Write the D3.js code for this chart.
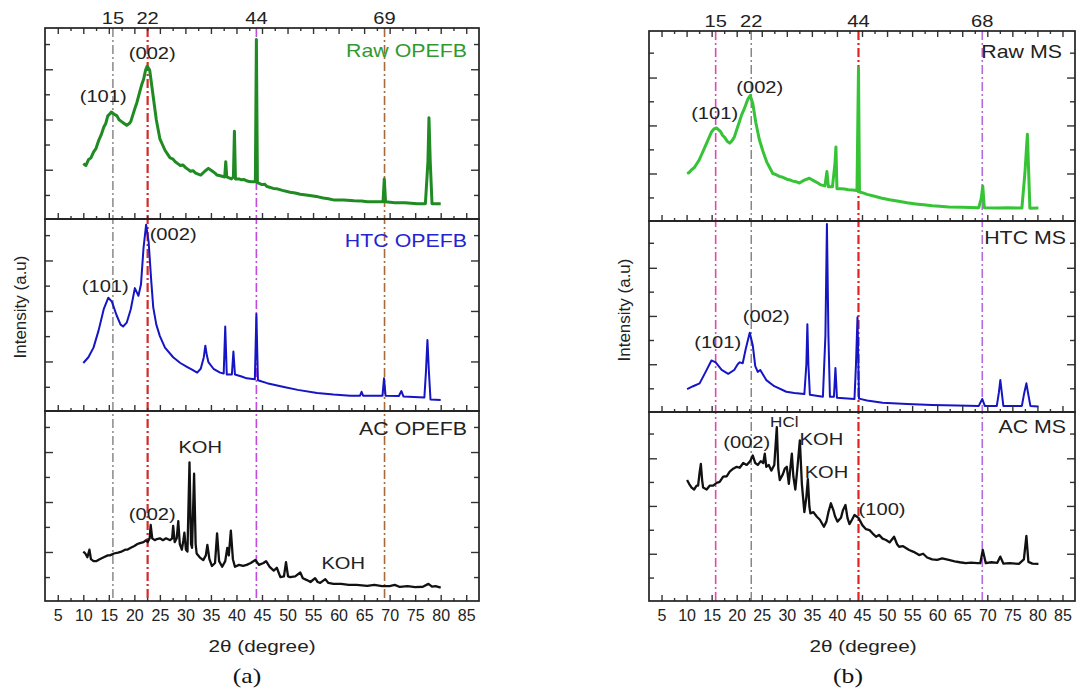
<!DOCTYPE html>
<html>
<head>
<meta charset="utf-8">
<script src="https://cdn.jsdelivr.net/npm/d3@7"></script>
<style>
  body { margin: 0; background: #fff; }
  svg { display: block; font-family: "Liberation Sans", Arial, sans-serif; }
</style>
</head>
<body>
<svg id="chart" width="1076" height="691"></svg>
<script>
/* DATA: [2theta, relative intensity %] */
const rawOpefb = [[10,29],[10.5,28],[11,31],[11.5,32],[12,35],[12.5,37],[13,41],[13.5,44],[14,48],[14.4,50],[14.8,54],[15.2,55],[15.5,56],[16,55],[16.6,54],[17,52],[17.5,51],[18,50],[18.5,49],[19,50],[19.3,51],[20,57],[20.5,61],[21,66],[21.4,70],[21.8,73],[22.2,78],[22.5,80],[23,78],[23.6,66],[24.3,52],[25,42],[25.5,39],[26,36],[26.5,34],[27,32],[27.5,31.5],[28,30],[28.5,29],[29,28],[29.5,28.3],[30,27],[30.5,26],[31,25],[31.5,25.3],[32,24],[32.5,23.5],[33,23],[33.8,25],[34.5,26.5],[35.3,25],[35.8,24],[36.2,23],[37,22.5],[37.7,22],[37.9,30],[38.1,22],[39,21],[39.4,22],[39.6,46],[39.8,21],[40.5,21],[41,20.5],[41.5,20.7],[42,20],[42.5,19.6],[43,19.5],[43.7,19.5],[43.9,94],[44.1,19],[45,18],[45.5,18.2],[46,17],[47.2,16],[48,15.8],[49,15],[50.5,14],[51.5,13.6],[52.5,13],[54,12.4],[55,12],[56,11.6],[57,11],[58,10.6],[59,10],[61,10],[63,9.5],[64.5,9.4],[65.6,9],[67,9],[68.7,9],[68.95,21],[69.2,9],[71,8.5],[73,8.5],[75.4,8],[77,8],[77.5,30],[77.7,53],[77.95,30],[78.3,8],[80,8]];
const htcOpefb = [[10,25],[11,28],[12,33],[13,42],[14,53],[14.9,59],[15.6,57],[16.5,50],[17.3,45],[17.8,44],[18.5,46],[19.3,53],[20.1,64],[20.8,60],[21.3,66],[21.8,85],[22.3,97],[22.8,88],[23.3,68],[23.7,54],[24.3,45],[25,39],[26,33],[27.6,28],[29,25],[30.3,23],[31.3,21.5],[32.3,20],[33,22],[33.6,28],[33.9,34],[34.2,29],[34.5,25.5],[35.5,22],[36.8,20],[37.5,19.5],[37.8,44],[38.1,19],[39.1,19],[39.4,31],[39.7,19],[41,18],[42,17],[43.6,16.5],[43.9,50.5],[44.2,16],[46,14.5],[49.3,12.5],[52,11],[55.8,9.4],[59,8.6],[62.3,8],[64.2,8],[64.5,10],[64.8,8],[68.6,8],[68.9,17],[69.2,8],[71.8,7.8],[72.3,10.4],[72.7,7.6],[76.8,7],[77.1,20],[77.4,37],[77.7,20],[78,6],[80,5.7]];
const acOpefb = [[10,26],[10.4,25],[10.8,23],[11.2,27],[11.5,22],[12,21],[12.6,21],[13.2,22],[14,23],[14.8,24],[15.2,24],[16,25],[16.8,25.5],[17.5,26],[18.2,27],[18.6,27],[19.3,28],[20,29],[20.6,30],[21.1,30.5],[21.8,31],[22.3,32],[22.6,31],[23,33],[23.2,40],[23.5,33],[24,32],[24.4,32.6],[25,33],[25.6,32],[26.2,33],[27,32],[27.4,33],[27.6,39.5],[27.9,31],[28.3,33],[28.6,42],[28.9,30],[29.3,27],[29.6,32],[29.8,36],[30.1,27],[30.4,26],[30.8,73],[31.1,30],[31.3,28],[31.7,67],[32,30],[32.2,25],[32.8,23],[33.5,21.5],[34,24],[34.3,29.5],[34.7,22],[35.2,18.4],[35.8,20],[36.2,35.6],[36.6,21],[37.2,18],[37.8,21],[38.2,28],[38.5,24],[38.9,37],[39.3,22],[39.7,18],[40.5,19],[41.3,18.5],[42,19],[42.8,20],[43.7,21.6],[44.4,19],[45.3,20],[45.8,21],[46.5,18],[47.3,16],[47.9,17.5],[48.6,12.6],[49.3,13],[49.7,20.5],[50.1,13],[50.5,12.6],[51.5,13],[52.5,15],[53,12],[53.8,11],[54.5,10],[55.4,12],[55.9,10],[56.4,9.5],[57.4,11.5],[58,9.5],[59,9],[60.5,9],[62,8.5],[63.5,8.5],[65.6,8],[67,8.5],[68.5,7.8],[70,7.8],[71,8.5],[72,7.4],[73.5,7.8],[75,7.3],[76.5,7.5],[77.6,9],[78.3,7.6],[79,7.8],[80,7]];

const rawMs = [[10.1,25],[10.5,25.5],[11,27],[11.5,28],[12,30],[12.5,32],[13,35],[13.5,38],[14,41],[14.5,44],[15,47],[15.5,48.5],[15.96,49],[16.4,48],[16.8,47],[17.2,45],[17.6,44],[18.1,42],[18.6,41],[19,42],[19.5,44],[20,48],[20.5,52],[21,56],[21.5,59],[22.2,64],[22.7,66],[23.2,62],[23.8,52],[24.5,43],[25.2,37],[25.6,34],[26,31],[26.6,28],[27.2,25],[27.8,24.5],[28.5,23.5],[29.2,23],[30,22],[30.6,21.6],[31.2,21],[31.8,20.7],[32.5,20],[33.5,21.5],[34.5,22.5],[35.5,21],[36.2,20],[36.8,19],[37.6,18.5],[38,26],[38.3,18],[39.1,18],[39.6,30],[39.8,39],[40,17],[40.8,17],[41.5,16.8],[42.3,16.5],[43.1,16.3],[44,16],[44.3,80.5],[44.5,15.3],[45.2,14.8],[46,14],[47.5,13],[49,12],[50.5,11.2],[52,10.5],[54,9.6],[55.7,9],[57.3,8.5],[59,8],[60.5,7.7],[62.3,7.4],[65,7.2],[68.3,7],[68.8,12],[69.1,18.4],[69.4,7],[72,6.9],[74,7],[76.9,6.8],[77.5,25],[78,45.7],[78.5,6.7],[80.2,6.8]];
const htcMs = [[10.1,12],[11.3,13.5],[12.6,15],[13.8,21],[14.96,27],[15.8,26],[17,22],[18.3,20],[19.5,22],[20.2,25],[20.6,26],[21.2,25.5],[21.8,33],[22.6,41.5],[23.2,35],[23.7,24],[24.2,21],[24.7,22],[25.9,16.7],[27.5,13.5],[29.9,10.6],[31.5,10],[33.5,9.4],[33.9,25],[34.1,46],[34.3,25],[34.6,9],[37.2,8],[37.7,40],[38,98.4],[38.3,40],[38.6,8],[39.4,8],[39.7,23],[40,7.5],[43.5,6.8],[43.8,25],[44.1,49.6],[44.4,7],[46,6],[49.1,4.9],[54,4.2],[59,3.7],[64,3.4],[68.3,3.2],[69,6.8],[69.5,3.2],[71.9,3.2],[72.3,10],[72.6,16.7],[72.9,10],[73.2,3.2],[76.9,3.2],[77.3,9],[77.8,15],[78.2,9],[78.6,3.2],[80.2,2.9]];
const acMs = [[10.1,64],[10.5,62],[11,60],[11.5,59],[12,61],[12.3,61],[12.6,68],[12.85,72.5],[13.1,64],[13.3,60],[14,59],[14.6,61],[15.3,61],[16,62.5],[16.6,63],[17.3,65.8],[18,66],[18.6,68.5],[19.3,70],[20,71],[20.6,70.5],[21.3,73],[22,72],[22.7,74],[23.2,77],[23.7,73],[24.2,72],[24.8,74],[25.3,73],[25.6,78],[25.9,71],[26.4,72],[26.9,69],[27.5,72],[28,92],[28.3,70],[28.6,64],[29.2,67],[29.6,70],[30,71],[30.4,62],[30.7,70],[31,78],[31.3,66],[31.7,59],[32.1,70],[32.6,85],[33,62],[33.5,47],[33.9,55],[34.2,64.5],[34.5,50],[34.7,46.4],[35.3,47],[36,44.6],[36.6,43],[37.4,39.3],[37.9,42],[38.3,47],[38.8,51.7],[39.3,48],[39.6,45],[40.1,42],[40.8,44],[41.2,48],[41.7,50.8],[42.1,44],[42.5,40.7],[43,43],[43.5,45.5],[44.3,44],[45.1,40],[45.8,38],[46.5,37.5],[47.1,35.8],[47.8,34],[48.4,35],[49.1,33],[49.8,32.3],[50.5,31],[51.4,34],[52,30],[52.4,28.7],[53.2,29],[54.4,27],[55.3,26],[56.4,24.3],[57.2,25],[58,23],[59,22],[60,21.8],[61,22.5],[62.3,21.7],[63.5,21],[64.5,20.5],[65.7,20],[66.8,20.3],[68,20],[68.6,20],[69.1,27],[69.7,20],[70.8,20.5],[72,20.2],[72.6,23.5],[73.2,19.8],[74.5,20],[76.3,19.6],[77.3,22],[77.8,34.4],[78.2,20.7],[79,19.8],[80.2,19.6]];

/* reference lines and tick labels */
const refA = [15.8, 22.6, 43.9, 69.0];
const refALabels = ["15", "22", "44", "69"];
const refB = [15.8, 22.9, 44.3, 69.0];
const refBLabels = ["15", "22", "44", "68"];
const xTickLabels = [5,10,15,20,25,30,35,40,45,50,55,60,65,70,75,80,85];
const xMinorTicks = [7.5,12.5,17.5,22.5,27.5,32.5,37.5,42.5,47.5,52.5,57.5,62.5,67.5,72.5,77.5,82.5];
const yMajorA = [25.8, 52.1, 78.4], yMinorA = [12.6, 39, 65.3, 91.6];
const yMajorB = [25, 50.3, 75.5], yMinorB = [12.4, 37.7, 63, 88.6];

/* annotations: [text, 2theta, intensity] */
const notesRawOpefb = [["(101)", 13.9, 61], ["(002)", 23.5, 84]];
const notesHtcOpefb = [["(101)", 14.3, 62], ["(002)", 27.6, 89]];
const notesAcOpefb = [["(002)", 23.5, 42.6], ["KOH", 32.9, 78], ["KOH", 60.9, 17]];
const notesRawMs = [["(101)", 15.6, 53.7], ["(002)", 24.6, 67.4]];
const notesHtcMs = [["(101)", 16.2, 33.5], ["(002)", 25.9, 47]];
const notesAcMs = [["(002)", 22, 81], ["HCl", 29.5, 92], ["KOH", 36.9, 82.5], ["KOH", 37.9, 65], ["(100)", 49, 45.5]];

/* LAYOUT */
const svg = d3.select("#chart");
const SX = 1.22; // source figure is stretched sideways

const figA = {
  left: 45, right: 479, labelY: 24, caption: "(a)", captionX: 247, titleX: 262, yTitleX: 26, yTitleY: 307,
  refs: refA, refLabels: refALabels,
  refColors: ["#808080", "#d42a2a", "#c24ae0", "#a86a3c"], refWidths: [1.4, 2.2, 1.6, 1.6],
  yMajor: yMajorA, yMinor: yMinorA,
  panels: [
    { data: rawOpefb, top: 28, bottom: 219, color: "#1f8b22", width: 3, name: "Raw OPEFB", nameColor: "#2f9a30", nameX: 467, nameDy: 29, notes: notesRawOpefb },
    { data: htcOpefb, top: 219, bottom: 411, color: "#1515c4", width: 2, name: "HTC OPEFB", nameColor: "#2424d2", nameX: 467, nameDy: 28, notes: notesHtcOpefb },
    { data: acOpefb, top: 411, bottom: 601, color: "#111", width: 2.3, name: "AC OPEFB", nameColor: "#222", nameX: 467, nameDy: 24, notes: notesAcOpefb }
  ]
};
const figB = {
  left: 649, right: 1075, labelY: 27, caption: "(b)", captionX: 848, titleX: 863, yTitleX: 630, yTitleY: 310,
  refs: refB, refLabels: refBLabels,
  refColors: ["#de48b2", "#808080", "#e02222", "#b46ae0"], refWidths: [1.6, 1.4, 2.2, 1.6],
  yMajor: yMajorB, yMinor: yMinorB,
  panels: [
    { data: rawMs, top: 31, bottom: 221, color: "#36c436", width: 3, name: "Raw MS", nameColor: "#222", nameX: 1062, nameDy: 27, notes: notesRawMs },
    { data: htcMs, top: 221, bottom: 412, color: "#1515c4", width: 2, name: "HTC MS", nameColor: "#222", nameX: 1066, nameDy: 23, notes: notesHtcMs },
    { data: acMs, top: 412, bottom: 601, color: "#111", width: 2.3, name: "AC MS", nameColor: "#222", nameX: 1066, nameDy: 21, notes: notesAcMs }
  ]
};

function label(parent, str, px, py, size, color, anchor, sx) {
  return parent.append("text")
    .attr("transform", `translate(${px},${py}) scale(${sx},1)`)
    .attr("text-anchor", anchor)
    .attr("font-size", size)
    .attr("fill", color)
    .text(str);
}

function styleTicks(g) {
  g.select(".domain").remove();
  g.selectAll(".tick line").attr("stroke", "#333").attr("stroke-width", 1.4);
}

function drawFigure(fig) {
  const g = svg.append("g");
  const x = d3.scaleLinear().domain([2.5, 87.5]).range([fig.left, fig.right]);
  const top = fig.panels[0].top, bottom = fig.panels[2].bottom;

  // dash-dot guide lines
  fig.refs.forEach((v, i) => {
    g.append("line")
      .attr("x1", x(v)).attr("x2", x(v))
      .attr("y1", top).attr("y2", bottom)
      .attr("stroke", fig.refColors[i])
      .attr("stroke-width", fig.refWidths[i])
      .attr("stroke-dasharray", "9,3,2,3");
    label(g, fig.refLabels[i], x(v), fig.labelY, 16.5, "#222", "middle", SX);
  });

  fig.panels.forEach((p, pi) => {
    const y = d3.scaleLinear().domain([0, 100]).range([p.bottom, p.top]);
    const line = d3.line().x(d => x(d[0])).y(d => y(d[1]));

    g.append("path")
      .datum(p.data)
      .attr("d", line)
      .attr("fill", "none")
      .attr("stroke", p.color)
      .attr("stroke-width", p.width)
      .attr("stroke-linejoin", "round");

    // bottom ticks (inward)
    const last = pi === fig.panels.length - 1;
    const bMaj = g.append("g").attr("transform", `translate(0,${p.bottom})`)
      .call(d3.axisBottom(x).tickValues(xTickLabels).tickSize(-6).tickSizeOuter(0)
        .tickPadding(9).tickFormat(last ? d3.format("d") : ""));
    styleTicks(bMaj);
    bMaj.selectAll("text").attr("font-size", 16).attr("fill", "#222").attr("font-family", "Liberation Sans, Arial, sans-serif");
    const bMin = g.append("g").attr("transform", `translate(0,${p.bottom})`)
      .call(d3.axisBottom(x).tickValues(xMinorTicks).tickSize(-3).tickSizeOuter(0).tickFormat(""));
    styleTicks(bMin);

    if (pi === 0) {
      const tMaj = g.append("g").attr("transform", `translate(0,${p.top})`)
        .call(d3.axisTop(x).tickValues(xTickLabels).tickSize(-6).tickSizeOuter(0).tickFormat(""));
      styleTicks(tMaj);
      const tMin = g.append("g").attr("transform", `translate(0,${p.top})`)
        .call(d3.axisTop(x).tickValues(xMinorTicks).tickSize(-3).tickSizeOuter(0).tickFormat(""));
      styleTicks(tMin);
    }

    // left and right ticks (inward)
    [[d3.axisLeft, fig.left], [d3.axisRight, fig.right]].forEach(([ax, pos]) => {
      const a = g.append("g").attr("transform", `translate(${pos},0)`)
        .call(ax(y).tickValues(fig.yMajor).tickSize(-8).tickSizeOuter(0).tickFormat(""));
      styleTicks(a);
      const b = g.append("g").attr("transform", `translate(${pos},0)`)
        .call(ax(y).tickValues(fig.yMinor).tickSize(-5).tickSizeOuter(0).tickFormat(""));
      styleTicks(b);
    });

    // frame
    g.append("rect")
      .attr("x", fig.left).attr("y", p.top)
      .attr("width", fig.right - fig.left).attr("height", p.bottom - p.top)
      .attr("fill", "none").attr("stroke", "#222").attr("stroke-width", 1.7);

    label(g, p.name, p.nameX, p.top + p.nameDy, 17.5, p.nameColor, "end", SX);

    p.notes.forEach(n => {
      label(g, n[0], x(n[1]), y(n[2]), n[0] === "HCl" ? 14 : 16.5, "#222", "middle", SX);
    });
  });

  label(g, "2θ (degree)", fig.titleX, 652, 17, "#222", "middle", SX);
  label(g, fig.caption, fig.captionX, 683, 21, "#111", "middle", SX).attr("font-family", "Liberation Serif, serif");

  g.append("text")
    .attr("transform", `translate(${fig.yTitleX},${fig.yTitleY}) rotate(-90)`)
    .attr("text-anchor", "middle")
    .attr("font-size", 17)
    .attr("fill", "#222")
    .text("Intensity (a.u)");
}

drawFigure(figA);
drawFigure(figB);
</script>
</body>
</html>
